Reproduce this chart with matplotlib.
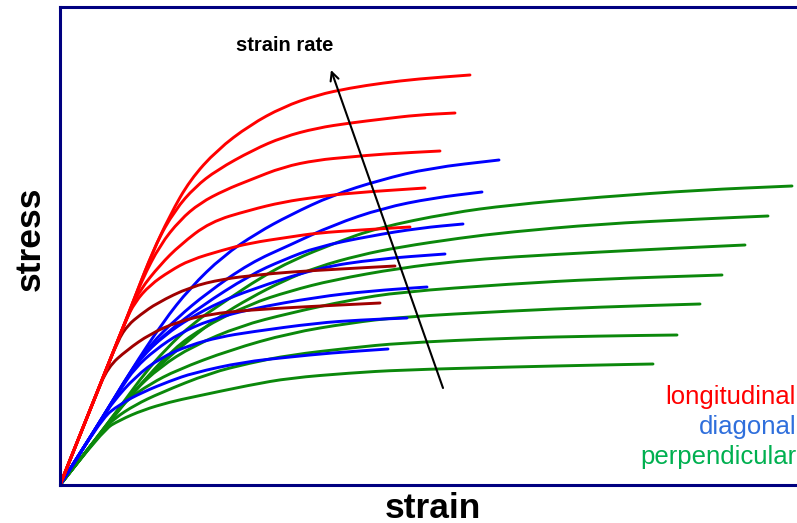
import matplotlib.pyplot as plt
from matplotlib.path import Path
from matplotlib.patches import PathPatch

plt.rcParams['font.family'] = ['Liberation Sans', 'DejaVu Sans']

# strain / stress in arbitrary units (no ticks in the original)
# longitudinal (red), highest strain rate first
red_strain = [
    [0, 40, 70, 90, 110, 130, 157, 190, 223, 257, 290, 323, 357, 410],
    [0, 40, 70, 95, 115, 135, 157, 193, 223, 257, 290, 323, 357, 395],
    [0, 40, 70, 82, 100, 120, 140, 165, 190, 223, 257, 290, 323, 380],
    [0, 40, 70, 80, 100, 120, 150, 190, 223, 257, 290, 365],
    [0, 40, 65, 75, 90, 110, 130, 163, 190, 230, 257, 300, 350],
]
red_stress = [
    [0, 100, 175, 227, 270, 305, 335, 360, 378, 390, 397, 402, 406, 410],
    [0, 100, 175, 240, 275, 298, 315, 335, 348, 357, 362, 366, 370, 372],
    [0, 100, 175, 205, 240, 265, 282, 295, 305, 318, 325, 328, 331, 334],
    [0, 100, 175, 195, 220, 240, 263, 275, 283, 288, 292, 297],
    [0, 100, 163, 183, 200, 214, 225, 235, 242, 248, 252, 255, 258],
]
# the two lowest longitudinal curves are drawn in dark red
dred_strain = [
    [0, 40, 58, 68, 80, 97, 130, 163, 197, 230, 280, 335],
    [0, 35, 48, 67, 90, 117, 150, 190, 240, 320],
]
dred_stress = [
    [0, 100, 145, 160, 170, 182, 198, 206, 210, 213, 216, 219],
    [0, 88, 118, 135, 151, 163, 171, 175, 178, 182],
]

# diagonal (blue)
blue_strain = [
    [0, 43, 70, 103, 130, 163, 197, 230, 273, 320, 370, 439],
    [0, 43, 70, 90, 117, 147, 190, 230, 273, 323, 373, 422],
    [0, 43, 70, 85, 110, 140, 190, 223, 257, 310, 360, 403],
    [0, 43, 67, 80, 105, 130, 160, 190, 257, 317, 385],
    [0, 43, 60, 75, 95, 120, 150, 190, 257, 310, 367],
    [0, 43, 53, 75, 100, 130, 160, 190, 257, 300, 347],
    [0, 40, 60, 83, 110, 133, 183, 230, 270, 328],
]
blue_stress = [
    [0, 68, 113, 163, 197, 229, 252, 270, 290, 305, 317, 325],
    [0, 68, 113, 140, 167, 192, 222, 240, 260, 277, 287, 293],
    [0, 68, 112, 132, 155, 178, 210, 225, 238, 249, 257, 261],
    [0, 68, 107, 127, 150, 167, 183, 195, 217, 226, 231],
    [0, 68, 95, 117, 135, 152, 165, 176, 188, 194, 198],
    [0, 68, 83, 108, 127, 140, 148, 153, 162, 165, 167],
    [0, 65, 81, 93, 104, 112, 123, 128, 132, 136],
]

# perpendicular (green)
green_strain = [
    [0, 43, 65, 85, 105, 133, 167, 200, 233, 275, 317, 390, 450, 540, 640, 732],
    [0, 43, 65, 80, 100, 130, 160, 190, 223, 257, 300, 340, 400, 450, 540, 640, 708],
    [0, 43, 65, 80, 110, 140, 190, 230, 273, 340, 400, 450, 540, 620, 685],
    [0, 43, 60, 73, 100, 133, 180, 230, 290, 340, 450, 540, 662],
    [0, 43, 55, 67, 90, 117, 170, 230, 290, 340, 450, 540, 640],
    [0, 43, 55, 75, 100, 150, 190, 230, 290, 340, 450, 540, 617],
    [0, 43, 60, 83, 110, 133, 190, 230, 290, 340, 450, 540, 593],
]
green_stress = [
    [0, 55, 85, 112, 135, 162, 185, 207, 225, 242, 257, 272, 280, 288, 295, 299],
    [0, 55, 83, 100, 120, 146, 169, 187, 204, 218, 230, 238, 247, 253, 261, 266, 269],
    [0, 55, 82, 100, 133, 156, 181, 194, 205, 217, 224, 228, 233, 237, 240],
    [0, 55, 77, 93, 118, 139, 159, 172, 185, 193, 201, 206, 210],
    [0, 55, 72, 85, 101, 115, 135, 152, 162, 168, 174, 178, 181],
    [0, 55, 67, 80, 92, 112, 122, 130, 137, 142, 147, 149, 150],
    [0, 55, 65, 75, 83, 88, 100, 107, 112, 115, 118, 120, 121],
]

# strain-rate arrow (tail, head)
arrow_tail = (383, 97)
arrow_head = (271, 415)

legend_labels = ['longitudinal', 'diagonal', 'perpendicular']
legend_colors = ['#ff0000', '#2f6fdc', '#00b050']


def draw_curve(ax, xs, ys, color):
    # quadratic bezier through midpoints, so the hand-drawn curves look smooth
    verts = [(xs[0], ys[0])]
    codes = [Path.MOVETO]
    for i in range(1, len(xs) - 1):
        verts.append((xs[i], ys[i]))
        verts.append(((xs[i] + xs[i + 1]) / 2, (ys[i] + ys[i + 1]) / 2))
        codes += [Path.CURVE3, Path.CURVE3]
    verts.append((xs[-1], ys[-1]))
    codes.append(Path.LINETO)
    ax.add_patch(PathPatch(Path(verts, codes), fill=False, edgecolor=color,
                           lw=2.1, capstyle='round', joinstyle='round'))


fig = plt.figure(figsize=(7.97, 5.23), dpi=100)
ax = fig.add_axes([60 / 797, 38 / 523, 1 - 60 / 797, 478 / 523])

for xs, ys in zip(green_strain, green_stress):
    draw_curve(ax, xs, ys, '#0b880b')
for xs, ys in zip(blue_strain, blue_stress):
    draw_curve(ax, xs, ys, '#0000ff')
for xs, ys in zip(dred_strain, dred_stress):
    draw_curve(ax, xs, ys, '#a00000')
for xs, ys in zip(red_strain, red_stress):
    draw_curve(ax, xs, ys, '#ff0000')

ax.annotate('', xy=arrow_head, xytext=arrow_tail,
            arrowprops=dict(arrowstyle='->', color='black', lw=1.5,
                            mutation_scale=15, shrinkA=0, shrinkB=0))
ax.text(225, 440, 'strain rate', fontsize=14.5, fontweight='bold',
        ha='center', va='center')

ax.set_xlim(0, 737)
ax.set_ylim(0, 478)
ax.set_xticks([])
ax.set_yticks([])
for side in ['left', 'top', 'bottom']:
    ax.spines[side].set_color('#000080')
    ax.spines[side].set_linewidth(2.2)
ax.spines['right'].set_visible(False)

# legend as coloured text, right-aligned at the image edge
for i, (lab, col) in enumerate(zip(legend_labels, legend_colors)):
    fig.text(796 / 797, 1 - (404 + 30 * i) / 523, lab, color=col,
             fontsize=18.5, ha='right', va='baseline')

fig.text(433 / 797, 1 - 508 / 523, 'strain', fontsize=25.5, fontweight='bold',
         ha='center', va='center')
fig.text(30 / 797, 1 - 239 / 523, 'stress', fontsize=25.5, fontweight='bold',
         ha='center', va='center', rotation=90)

fig.savefig('out.png', dpi=100)
